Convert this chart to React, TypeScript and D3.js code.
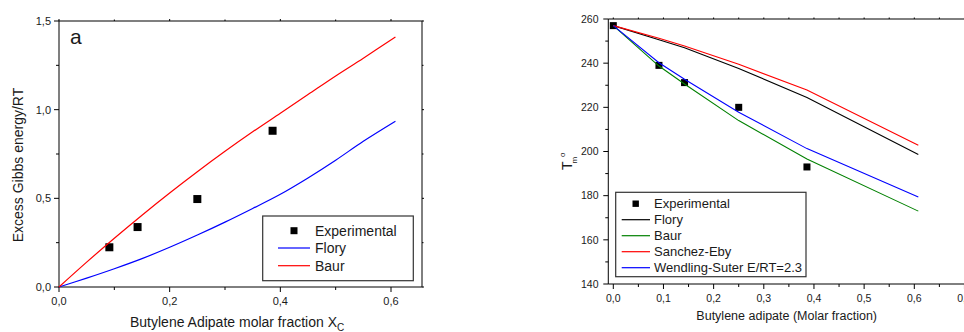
import React from "react";
import * as d3 from "d3";

// ---- Left panel (a) data ----
const expXL = [0.091, 0.142, 0.25, 0.386];
const expYL = [0.224, 0.338, 0.496, 0.881];
const modelXL = [0, 0.05, 0.1, 0.15, 0.2, 0.25, 0.3, 0.35, 0.4, 0.45, 0.5, 0.55, 0.608];
const floryL = [0, 0.05, 0.103, 0.16, 0.224, 0.293, 0.366, 0.443, 0.523, 0.615, 0.715, 0.822, 0.935];
const baurL = [0, 0.14, 0.275, 0.405, 0.53, 0.65, 0.765, 0.875, 0.98, 1.085, 1.19, 1.29, 1.41];
const xTicksL = [0, 0.2, 0.4, 0.6];
const xMinorL = [0.1, 0.3, 0.5];
const yTicksL = [0, 0.5, 1.0, 1.5];
const yMinorL = [0.25, 0.75, 1.25];

// ---- Right panel data ----
const expXR = [0, 0.091, 0.142, 0.25, 0.386];
const expYR = [257, 239, 231.2, 220, 193];
const modelXR = [0, 0.091, 0.142, 0.25, 0.386, 0.608];
const floryR = [257, 250.6, 247, 237.6, 224.5, 198.6];
const baurR = [257, 238.7, 230.6, 214, 196.6, 173];
const sanchezR = [257, 251.3, 247.8, 239.5, 227.8, 202.8];
const wendlingR = [257, 240.2, 232.7, 217.8, 201.3, 179.4];
const xTicksR = [0, 0.1, 0.2, 0.3, 0.4, 0.5, 0.6, 0.7];
const xMinorR = [0.05, 0.15, 0.25, 0.35, 0.45, 0.55, 0.65];
const yTicksR = [140, 160, 180, 200, 220, 240, 260];
const yMinorR = [150, 170, 190, 210, 230, 250];

const FONT = "'Liberation Sans', Arial, Helvetica, sans-serif";
const TXT = "#1a1a1a";
const fmt1 = (v: number) => d3.format(".1f")(v).replace(".", ",");

export default function App() {
  // left scales
  const xL = d3.scaleLinear().domain([0, 0.6]).range([59, 391]);
  const yL = d3.scaleLinear().domain([0, 1.5]).range([287, 21]);
  const xL0 = 59, xL1 = 422, yL0 = 287, yL1 = 21;

  // right scales
  const xR = d3.scaleLinear().domain([0, 0.6]).range([613.3, 914.3]);
  const yR = d3.scaleLinear().domain([140, 260]).range([284, 19]);
  const xR0 = xR(-0.01), xR1 = 1000, yR0 = 284, yR1 = 19;

  const lineL = (ys: number[]) =>
    d3.line<number>().x((_, i) => xL(modelXL[i])).y((d) => yL(d)).curve(d3.curveCatmullRom)(ys) || "";
  const lineR = (ys: number[]) =>
    d3.line<number>().x((_, i) => xR(modelXR[i])).y((d) => yR(d))(ys) || "";

  const sqL = 8;
  const sqR = 7;

  return (
    <svg
      width={964}
      height={332}
      style={{ position: "absolute", left: 0, top: 0, background: "#fff" }}
      fontFamily={FONT}
    >
      <rect x={0} y={0} width={964} height={332} fill="#fff" />
      {/* ===== LEFT PANEL ===== */}
      <g>
        <rect x={xL0} y={yL1} width={xL1 - xL0} height={yL0 - yL1} fill="none" stroke="#000" strokeWidth={1} />
        {xTicksL.map((t) => (
          <g key={"xl" + t}>
            <line x1={xL(t)} x2={xL(t)} y1={yL0} y2={yL0 + 5} stroke="#000" />
            <line x1={xL(t)} x2={xL(t)} y1={yL1} y2={yL1 - 2} stroke="#000" />
            <text x={xL(t)} y={305} textAnchor="middle" fontSize={11} fill={TXT}>
              {fmt1(t)}
            </text>
          </g>
        ))}
        {xMinorL.map((t) => (
          <g key={"xlm" + t}>
            <line x1={xL(t)} x2={xL(t)} y1={yL0} y2={yL0 + 3} stroke="#000" />
            <line x1={xL(t)} x2={xL(t)} y1={yL1} y2={yL1 - 1.5} stroke="#000" />
          </g>
        ))}
        {yTicksL.map((t) => (
          <g key={"yl" + t}>
            <line x1={xL0} x2={xL0 - 5} y1={yL(t)} y2={yL(t)} stroke="#000" />
            <line x1={xL1} x2={xL1 + 2} y1={yL(t)} y2={yL(t)} stroke="#000" />
            <text x={51} y={yL(t)} dy="0.35em" textAnchor="end" fontSize={11} fill={TXT}>
              {fmt1(t)}
            </text>
          </g>
        ))}
        {yMinorL.map((t) => (
          <g key={"ylm" + t}>
            <line x1={xL0} x2={xL0 - 3} y1={yL(t)} y2={yL(t)} stroke="#000" />
            <line x1={xL1} x2={xL1 + 1.5} y1={yL(t)} y2={yL(t)} stroke="#000" />
          </g>
        ))}
        <text
          transform={`translate(23,${(yL0 + yL1) / 2 + 11}) rotate(-90)`}
          textAnchor="middle"
          fontSize={14}
          fill={TXT}
        >
          Excess Gibbs energy/RT
        </text>
        <text x={130} y={327} fontSize={14} fill={TXT}>
          Butylene Adipate molar fraction X
          <tspan fontSize={10} dy={4}>C</tspan>
        </text>
        <text x={70} y={44} fontSize={21} fill={TXT}>
          a
        </text>
        {expXL.map((x, i) => (
          <rect key={"el" + i} x={xL(x) - sqL / 2} y={yL(expYL[i]) - sqL / 2} width={sqL} height={sqL} fill="#000" />
        ))}
        <path d={lineL(floryL)} fill="none" stroke="#0000ff" strokeWidth={1.2} />
        <path d={lineL(baurL)} fill="none" stroke="#ff0000" strokeWidth={1.2} />
        <rect x={262.7} y={216} width={150.6} height={64.7} fill="#fff" stroke="#333" strokeWidth={1.2} />
        <rect x={294 - 3.5} y={230.7 - 3.5} width={7} height={7} fill="#000" />
        <text x={315} y={230.7} dy="0.35em" fontSize={14} fill={TXT}>Experimental</text>
        <line x1={278} x2={310} y1={248} y2={248} stroke="#0000ff" strokeWidth={1.2} />
        <text x={315} y={248} dy="0.35em" fontSize={14} fill={TXT}>Flory</text>
        <line x1={278} x2={310} y1={265.7} y2={265.7} stroke="#ff0000" strokeWidth={1.2} />
        <text x={315} y={265.7} dy="0.35em" fontSize={14} fill={TXT}>Baur</text>
      </g>

      {/* ===== RIGHT PANEL ===== */}
      <g>
        <line x1={xR0} x2={xR1} y1={yR1} y2={yR1} stroke="#000" />
        <line x1={xR0} x2={xR1} y1={yR0} y2={yR0} stroke="#000" />
        <line x1={xR0} x2={xR0} y1={yR1} y2={yR0} stroke="#000" />
        {xTicksR.map((t) => (
          <g key={"xr" + t}>
            <line x1={xR(t)} x2={xR(t)} y1={yR0} y2={yR0 + 5} stroke="#000" />
            <line x1={xR(t)} x2={xR(t)} y1={yR1} y2={yR1 - 1.5} stroke="#000" />
            <text x={xR(t)} y={302} textAnchor="middle" fontSize={10.5} fill={TXT}>
              {fmt1(t)}
            </text>
          </g>
        ))}
        {xMinorR.map((t) => (
          <g key={"xrm" + t}>
            <line x1={xR(t)} x2={xR(t)} y1={yR0} y2={yR0 + 3} stroke="#000" />
            <line x1={xR(t)} x2={xR(t)} y1={yR1} y2={yR1 - 1.5} stroke="#000" />
          </g>
        ))}
        {yTicksR.map((t) => (
          <g key={"yr" + t}>
            <line x1={xR0} x2={xR0 - 5} y1={yR(t)} y2={yR(t)} stroke="#000" />
            <text x={598.5} y={yR(t)} dy="0.35em" textAnchor="end" fontSize={10.5} fill={TXT}>
              {t}
            </text>
          </g>
        ))}
        {yMinorR.map((t) => (
          <line key={"yrm" + t} x1={xR0} x2={xR0 - 3} y1={yR(t)} y2={yR(t)} stroke="#000" />
        ))}
        <text transform="translate(571.5,170) rotate(-90)" fontSize={14} fill={TXT}>T</text>
        <text transform="translate(576.5,163.5) rotate(-90)" fontSize={8} fill={TXT}>m</text>
        <text transform="translate(564.5,157) rotate(-90)" fontSize={8} fill={TXT}>o</text>
        <text x={786.7} y={320} textAnchor="middle" fontSize={12.5} fill={TXT}>
          Butylene adipate (Molar fraction)
        </text>
        {expXR.map((x, i) => (
          <rect key={"er" + i} x={xR(x) - sqR / 2} y={yR(expYR[i]) - sqR / 2} width={sqR} height={sqR} fill="#000" />
        ))}
        <path d={lineR(floryR)} fill="none" stroke="#000" strokeWidth={1.1} />
        <path d={lineR(baurR)} fill="none" stroke="#008000" strokeWidth={1.1} />
        <path d={lineR(sanchezR)} fill="none" stroke="#ff0000" strokeWidth={1.1} />
        <path d={lineR(wendlingR)} fill="none" stroke="#0000ff" strokeWidth={1.1} />
        <rect x={615.7} y={192.3} width={190.3} height={84.4} fill="#fff" stroke="#333" strokeWidth={1.2} />
        <rect x={635.7 - 3.2} y={203.7 - 3.2} width={6.4} height={6.4} fill="#000" />
        <text x={654} y={203.7} dy="0.35em" fontSize={13} fill={TXT}>Experimental</text>
        {[
          { y: 219.7, c: "#000", t: "Flory" },
          { y: 235.7, c: "#008000", t: "Baur" },
          { y: 251.7, c: "#ff0000", t: "Sanchez-Eby" },
          { y: 267.7, c: "#0000ff", t: "Wendling-Suter E/RT=2.3" },
        ].map((e) => (
          <g key={e.t}>
            <line x1={621.7} x2={650} y1={e.y} y2={e.y} stroke={e.c} strokeWidth={1.2} />
            <text x={654} y={e.y} dy="0.35em" fontSize={13} fill={TXT}>{e.t}</text>
          </g>
        ))}
      </g>
    </svg>
  );
}
